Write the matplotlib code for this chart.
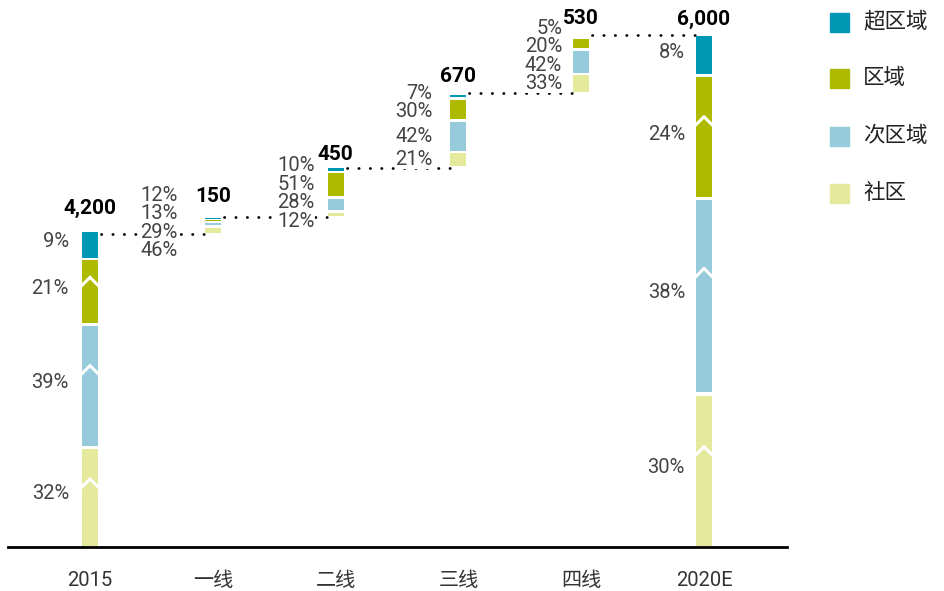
import matplotlib.pyplot as plt
from matplotlib.patches import Rectangle
import numpy as np

plt.rcParams['font.family'] = ['Roboto', 'Noto Sans CJK SC', 'DejaVu Sans']

# data
categories = ['2015', '一线', '二线', '三线', '四线', '2020E']
values = [4200, 150, 450, 670, 530, 6000]
is_total = [True, False, False, False, False, True]

segment_names = ['社区', '次区域', '区域', '超区域']  # bottom -> top
share_community = [32, 46, 12, 21, 33, 30]
share_subregional = [39, 29, 28, 42, 42, 38]
share_regional = [21, 13, 51, 30, 20, 24]
share_superregional = [9, 12, 10, 7, 5, 8]
shares = [share_community, share_subregional, share_regional, share_superregional]

colors = ['#e5e99b', '#95cbda', '#adba00', '#0097b4']

# layout (pixels)
W, H = 944, 591
px_per_unit = 0.1108
base_px, left_px, right_px = 547, 8, 787
x0_px, step_px = 90, 122.8
y_floor = 4200 - (base_px - 234) / px_per_unit   # broken axis start
label_gap_px = [13, 27, 13, 18, 11, 11]
total_off_px = [26, 21, 13, 17, 16, 15]

fig = plt.figure(figsize=(W / 100, H / 100), dpi=100)
ax = fig.add_axes([left_px / W, (H - base_px) / H, (right_px - left_px) / W, base_px / H])
ax.set_ylim(y_floor, y_floor + base_px / px_per_unit)
ax.set_xlim((left_px - x0_px) / step_px, (right_px - x0_px) / step_px)

bw = 16 / step_px
gap = 2.6 / px_per_unit
u = 1 / px_per_unit  # one pixel in data units

def spread(ys, dist):
    ys = list(ys)
    for _ in range(300):
        for i in range(len(ys) - 1):
            d = ys[i] - ys[i + 1]
            if d < dist:
                s = (dist - d) / 2
                ys[i] += s
                ys[i + 1] -= s
    return ys

running = 0
tops = []
for i, v in enumerate(values):
    if is_total[i]:
        bottom = y_floor
        span = v - y_floor
        top = v
    else:
        bottom = running
        span = v
        top = running + v
    running = top
    tops.append(top)

    mids = []
    b = bottom
    for k in range(4):
        h = shares[k][i] / 100 * span
        hh = max(h - gap, 0.9 * u)
        ax.bar(i, hh, bottom=b + (h - hh) / 2 if k > 0 or not is_total[i] else b,
               width=bw, color=colors[k], zorder=2)
        mids.append(b + h / 2)
        if is_total[i] and k < 3:
            yb = b + 0.6 * h
            ax.plot([i - bw / 2, i, i + bw / 2], [yb, yb + 8 * u, yb],
                    color='white', lw=2.2, zorder=3, solid_joinstyle='miter')
        b += h

    # percentage labels (top -> bottom)
    ys = mids[::-1]
    pcts = [shares[k][i] for k in range(4)][::-1]
    if is_total[i]:
        ys = [y + 3 * u for y in ys]
    else:
        ys = spread(ys, 18.5 * u)
    for y, p in zip(ys, pcts):
        ax.annotate(f'{p}%', xy=(i - bw / 2, y), xytext=(-label_gap_px[i] * 0.72, 0),
                    textcoords='offset points', ha='right', va='center',
                    fontsize=14.5, color='#444444', zorder=4,
                    bbox=dict(facecolor='white', edgecolor='none', pad=0))

    ax.annotate(f'{v:,}', xy=(i, top), xytext=(0, total_off_px[i] * 0.72),
                textcoords='offset points', ha='center', va='center',
                fontsize=15, fontweight='bold', color='black', zorder=4)

# dotted connectors
for i in range(len(values) - 1):
    ax.plot([i + bw / 2 + 3 / step_px, i + 1 - bw / 2], [tops[i], tops[i]],
            color='black', lw=2, dashes=(0.1, 4.0), dash_capstyle='round', zorder=1)

for s in ['top', 'right', 'left']:
    ax.spines[s].set_visible(False)
ax.spines['bottom'].set_linewidth(2)
ax.set_yticks([])
ax.set_xticks(range(len(categories)))
ax.set_xticklabels(categories, fontsize=14.5, color='#333333')
ax.tick_params(axis='x', length=0, pad=17)

# legend
legend_y = [22, 79, 136, 193]
for name, c, yc in zip(segment_names[::-1], colors[::-1], legend_y):
    fig.add_artist(Rectangle((830 / W, 1 - (yc + 9.5) / H), 19 / W, 19 / H,
                             transform=fig.transFigure, color=c))
    fig.text(863 / W, 1 - yc / H, name, va='center', ha='left', fontsize=15.5,
             color='#222222')

fig.savefig('out.png', dpi=100)
